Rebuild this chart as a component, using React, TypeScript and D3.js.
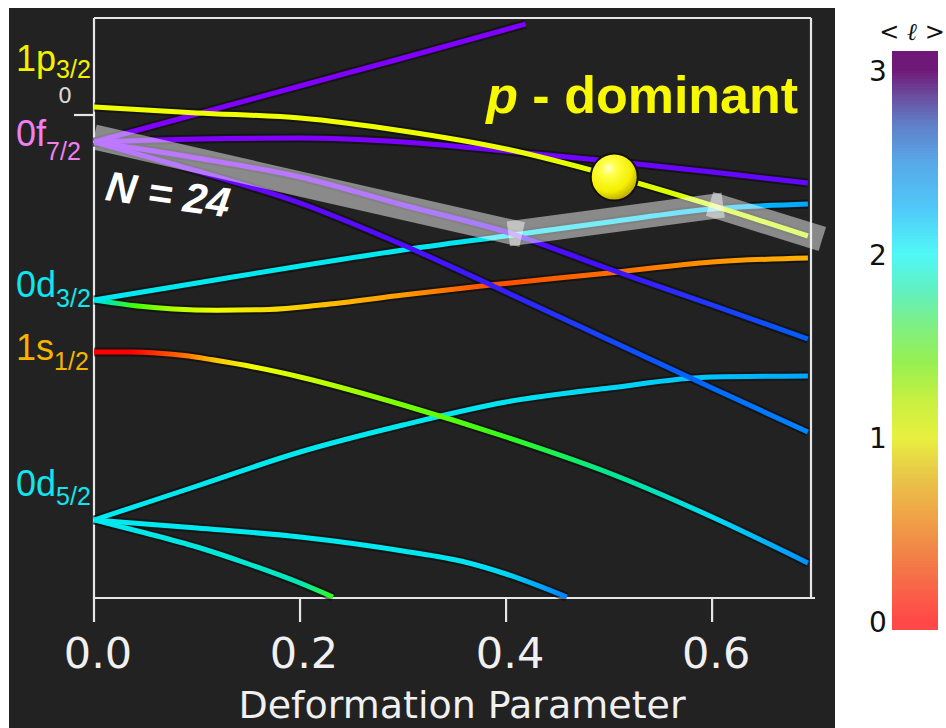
import React from "react";
import * as d3 from "d3";

const W = 946;
const H = 728;

// axes
const xTicks = [0, 0.2, 0.4, 0.6];
const yTicks = [0];
const lTicks = [0, 1, 2, 3];

// single-particle levels: [deformation, energy (MeV), <l>]
const f72Rise = [[0, -0.675, 3], [0.1, 0.025, 3], [0.2, 0.725, 3], [0.3, 1.425, 3], [0.419, 2.275, 3]];
const f72Flat = [[0, -0.675, 3], [0.1, -0.6, 3], [0.2, -0.575, 3], [0.3, -0.675, 2.98], [0.4, -0.9, 2.95], [0.5, -1.15, 2.92], [0.6, -1.425, 2.9], [0.693, -1.7, 2.88]];
const f72Mid = [[0, -0.675, 3], [0.1, -1.075, 3], [0.2, -1.55, 2.98], [0.3, -2.25, 2.93], [0.4, -2.925, 2.85], [0.5, -3.85, 2.75], [0.6, -4.75, 2.62], [0.693, -5.6, 2.5]];
const f72Steep = [[0, -0.675, 3], [0.1, -1.4, 2.95], [0.2, -2.2, 2.88], [0.3, -3.25, 2.8], [0.4, -4.425, 2.7], [0.5, -5.625, 2.58], [0.6, -6.825, 2.47], [0.693, -7.925, 2.38]];
const p32 = [[0, 0.2, 1], [0.1, 0.05, 1], [0.2, -0.075, 1], [0.3, -0.4, 1], [0.4, -0.85, 1.02], [0.5, -1.5, 1.05], [0.6, -2.26, 1.1], [0.693, -3.025, 1.17]];
const d32Rise = [[0, -4.625, 2], [0.1, -4.2, 2], [0.2, -3.775, 2], [0.3, -3.375, 2], [0.4, -3.025, 2.02], [0.5, -2.675, 2.06], [0.6, -2.35, 2.15], [0.693, -2.225, 2.28]];
const d32Bend = [[0, -4.625, 2], [0.015, -4.68, 1.8], [0.04, -4.77, 1.5], [0.077, -4.85, 1.25], [0.12, -4.88, 1.0], [0.17, -4.86, 0.87], [0.22, -4.75, 0.75], [0.3, -4.5, 0.6], [0.385, -4.25, 0.3], [0.5, -3.95, 0.42], [0.6, -3.675, 0.57], [0.693, -3.575, 0.7]];
const s12 = [[0, -5.925, 0], [0.035, -5.925, 0], [0.06, -5.95, 0.2], [0.09, -6.02, 0.45], [0.115, -6.12, 0.75], [0.155, -6.3, 1.0], [0.2, -6.55, 1.12], [0.3, -7.25, 1.38], [0.4, -8.05, 1.55], [0.5, -8.95, 1.75], [0.6, -10.05, 2.05], [0.693, -11.2, 2.35]];
const d52Rise = [[0, -10.125, 2], [0.1, -9.275, 2], [0.2, -8.425, 2], [0.3, -7.75, 2], [0.4, -7.175, 2.02], [0.5, -6.825, 2.08], [0.6, -6.55, 2.17], [0.693, -6.525, 2.28]];
const d52Mid = [[0, -10.125, 2], [0.1, -10.325, 2], [0.2, -10.55, 2], [0.3, -10.9, 2], [0.36, -11.175, 2.02], [0.4, -11.475, 2.08], [0.459, -12.05, 2.4]];
const d52Low = [[0, -10.125, 2], [0.05, -10.45, 1.98], [0.1, -10.8, 1.95], [0.15, -11.225, 1.92], [0.2, -11.7, 1.85], [0.232, -12.05, 1.55]];

const levels = [d52Low, d52Mid, d52Rise, s12, d32Bend, d32Rise, f72Steep, f72Mid, f72Flat, f72Rise, p32];

// spherical shell labels at zero deformation
const shellNames = ["1p", "0f", "0d", "1s", "0d"];
const shellJ = ["3/2", "7/2", "3/2", "1/2", "5/2"];
const shellLabelE = [1.1, -0.775, -4.55, -6.125, -9.525];

// N = 24 Fermi level path [deformation, energy]
const fermiN24 = [[0, -0.55], [0.409, -2.95], [0.604, -2.275], [0.707, -3.1]];
// p-dominant marker [deformation, energy]
const pDominant = [0.505, -1.55];

// styles
const shellColors = ["#f2f200", "#f080f0", "#10e6ee", "#f5b400", "#10e6ee"];
const shellSubDy = [7, 14, 10, 10, 9];

const lineColor = d3
  .scaleLinear<string>()
  .domain([0, 0.25, 0.5, 0.75, 1, 1.25, 1.5, 1.75, 2, 2.25, 2.5, 2.75, 3])
  .range(["#ff0000", "#ff4000", "#ff8000", "#ffc000", "#f0ff00", "#b0ff00", "#40ff00", "#00e890", "#00e8f0", "#00b0ff", "#0060ff", "#4010ff", "#8000ff"])
  .clamp(true);

const barColor = d3
  .scaleLinear<string>()
  .domain([0, 0.2, 0.4, 0.6, 0.8, 1.0, 1.2, 1.4, 1.6, 1.8, 2.0, 2.25, 2.5, 2.7, 2.85, 3.0])
  .range(["#ff4848", "#f86848", "#f08848", "#f0a848", "#e8c848", "#e8f040", "#c8f040", "#98f050", "#80f080", "#60f0c0", "#50f8f8", "#50c8f8", "#58a8e8", "#6080c8", "#6a50a0", "#701878"])
  .clamp(true);

const x = d3.scaleLinear().domain([0, 0.696]).range([94, 811]);
const y = d3.scaleLinear().domain([-12.075, 2.425]).range([598, 18]);
const yBar = d3.scaleLinear().domain([0, 3]).range([622, 71]);

const sans = "'Liberation Sans', Arial, sans-serif";
const dv = "'DejaVu Sans', sans-serif";

export default function App() {
  const line = d3
    .line<number[]>()
    .x((d) => x(d[0]))
    .y((d) => y(d[1]))
    .curve(d3.curveMonotoneX);

  // band segments, slightly overlapping at the joints
  const bandPx = fermiN24.map(([b, e]) => [x(b), y(e)]);
  const bandSegs = d3.range(bandPx.length - 1).map((i) => {
    const [x0, y0] = bandPx[i];
    const [x1, y1] = bandPx[i + 1];
    const len = Math.hypot(x1 - x0, y1 - y0);
    const ux = (x1 - x0) / len;
    const uy = (y1 - y0) / len;
    const a = i > 0 ? 7 : 0;
    const b = i < bandPx.length - 2 ? 7 : 0;
    return [x0 - ux * a, y0 - uy * a, x1 + ux * b, y1 + uy * b];
  });

  const barSteps = d3.range(-0.04, 3.1, 0.015);
  const [top, bottom] = [y.range()[1], y.range()[0]];

  return (
    <svg width={W} height={H} style={{ position: "absolute", left: 0, top: 0, background: "#fff" }}>
      <defs>
        {levels.map((pts, i) => {
          const b0 = pts[0][0];
          const b1 = pts[pts.length - 1][0];
          return (
            <linearGradient key={i} id={`lv${i}`} gradientUnits="userSpaceOnUse" x1={x(b0)} x2={x(b1)} y1={0} y2={0}>
              {pts.map((p, j) => (
                <stop key={j} offset={(p[0] - b0) / (b1 - b0)} stopColor={lineColor(p[2])} />
              ))}
            </linearGradient>
          );
        })}
        <radialGradient id="ball" cx="38%" cy="32%" r="70%">
          <stop offset="0" stopColor="#ffffc8" />
          <stop offset="0.25" stopColor="#ffff40" />
          <stop offset="0.7" stopColor="#f4ee00" />
          <stop offset="1" stopColor="#bba800" />
        </radialGradient>
        <clipPath id="bandClip">
          <rect x={x(0)} y={0} width={W - x(0)} height={H} />
        </clipPath>
      </defs>

      {/* dark panel */}
      <rect x={9} y={8} width={826} height={720} fill="#222222" />

      {/* frame */}
      <g stroke="#e6e6e6" strokeWidth={2.2} fill="none">
        <line x1={x(0)} x2={x(0.696)} y1={top} y2={top} />
        <line x1={x(0.696)} x2={x(0.696)} y1={top} y2={bottom} />
        <line x1={x(0)} x2={x(0)} y1={top} y2={bottom} />
        <line x1={x(0) - 1} x2={x(0.696) + 4} y1={bottom} y2={bottom} />
        {xTicks.map((t) => (
          <line key={t} x1={x(t)} x2={x(t)} y1={bottom} y2={bottom + 24} />
        ))}
        {yTicks.map((t) => (
          <line key={t} x1={x(0) - 20} x2={x(0)} y1={y(t)} y2={y(t)} />
        ))}
      </g>
      {yTicks.map((t) => (
        <text key={t} x={65} y={y(t) - 12} fill="#d8d8d8" fontSize={22} fontFamily={dv} textAnchor="middle">
          {t}
        </text>
      ))}
      {xTicks.map((t) => (
        <text key={t} x={x(t) + 4} y={668} fill="#f0f0f0" fontSize={43} fontFamily={dv} textAnchor="middle">
          {d3.format(".1f")(t)}
        </text>
      ))}
      <text x={462} y={718} fill="#f0f0f0" fontSize={38} fontFamily={dv} textAnchor="middle">
        Deformation Parameter
      </text>

      {/* levels */}
      <g fill="none" strokeLinecap="butt">
        {levels.map((pts, i) => (
          <path key={`h${i}`} d={line(pts) || ""} stroke="#0a0a0a" strokeOpacity={0.55} strokeWidth={9} />
        ))}
        {levels.map((pts, i) => (
          <path key={`l${i}`} d={line(pts) || ""} stroke={`url(#lv${i})`} strokeWidth={5} />
        ))}
      </g>

      {/* N = 24 band */}
      <g clipPath="url(#bandClip)">
        {bandSegs.map((s, i) => (
          <line key={i} x1={s[0]} y1={s[1]} x2={s[2]} y2={s[3]} stroke="#ffffff" strokeOpacity={0.47} strokeWidth={25} />
        ))}
      </g>

      {/* shell labels */}
      {shellNames.map((n, i) => (
        <text key={i} x={16} y={y(shellLabelE[i])} fill={shellColors[i]} fontSize={36} fontFamily={sans}>
          {n}
          <tspan fontSize={25} dy={shellSubDy[i]}>
            {shellJ[i]}
          </tspan>
        </text>
      ))}

      <text
        x={x(0.01)}
        y={y(-2.125)}
        transform={`rotate(8 ${x(0.01)} ${y(-2.125)})`}
        fill="#ffffff"
        fontSize={42}
        fontWeight="bold"
        fontStyle="italic"
        fontFamily={sans}
      >
        N = 24
      </text>

      <text x={x(0.6835)} y={y(0.05)} fill="#f8f800" fontSize={52} fontWeight="bold" fontFamily={sans} textAnchor="end">
        <tspan fontStyle="italic">p</tspan> - dominant
      </text>

      <circle cx={x(pDominant[0])} cy={y(pDominant[1])} r={23.5} fill="url(#ball)" stroke="#111" strokeWidth={2} />

      {/* colour bar */}
      <g shapeRendering="crispEdges">
        {barSteps.map((v, i) => (
          <rect key={i} x={892} width={46} y={yBar(v + 0.015)} height={yBar(v) - yBar(v + 0.015) + 0.6} fill={barColor(v)} />
        ))}
      </g>
      {lTicks.map((t) => (
        <text key={t} x={878} y={yBar(t) + 10} fill="#111" fontSize={28} fontFamily={dv} textAnchor="middle">
          {t}
        </text>
      ))}
      <text x={912} y={40} fill="#111" fontSize={24} fontFamily={dv} textAnchor="middle">
        {"< "}
        <tspan fontStyle="italic" fontFamily="'DejaVu Serif', serif">ℓ</tspan>
        {" >"}
      </text>
    </svg>
  );
}
